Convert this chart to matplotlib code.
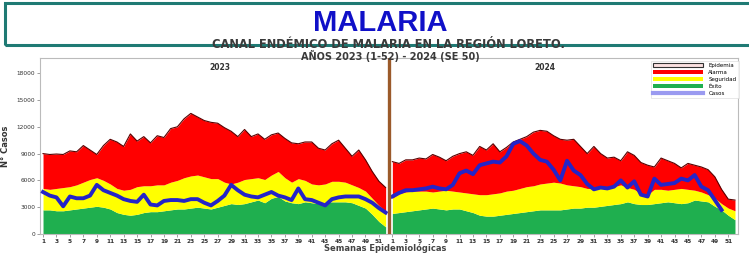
import matplotlib
matplotlib.use("Agg")
import matplotlib.pyplot as plt
from matplotlib.patches import Rectangle, Patch
from matplotlib.lines import Line2D
import numpy as np

# ---- data ----
weeks_2023 = list(range(1, 53))
weeks_2024 = list(range(1, 53))

alarma_2023 = [9000, 8900, 8950, 8900, 9300, 9200, 9900, 9400, 8900, 9900,
               10600, 10300, 9800, 11200, 10400, 10900, 10200, 11000, 10800, 11800,
               12000, 12900, 13500, 13100, 12700, 12500, 12400, 11900, 11500, 10900,
               11700, 10900, 11200, 10600, 11100, 11300, 10700, 10200, 10100, 10300,
               10300, 9600, 9400, 10100, 10500, 9600, 8700, 9400, 8300, 7000,
               5900, 5200]
seguridad_2023 = [5100, 5000, 5100, 5200, 5300, 5500, 5800, 6100, 6300, 6000,
                  5600, 5100, 4900, 5000, 5300, 5400, 5400, 5500, 5500, 5800,
                  6000, 6300, 6500, 6600, 6400, 6200, 6200, 5800, 5600, 5800,
                  6100, 6200, 6300, 6100, 6600, 7000, 6300, 5800, 6200, 6000,
                  5600, 5500, 5600, 5900, 5900, 5800, 5500, 5200, 4800, 4000,
                  3200, 2500]
exito_2023 = [2700, 2700, 2600, 2600, 2700, 2800, 2900, 3000, 3100, 3000,
              2800, 2400, 2200, 2100, 2200, 2400, 2500, 2500, 2600, 2700,
              2800, 2800, 2900, 3000, 2900, 2800, 3000, 3200, 3400, 3300,
              3400, 3600, 3800, 3500, 4000, 4200, 3700, 3500, 3400, 3600,
              3500, 3400, 3500, 3600, 3600, 3600, 3500, 3200, 2900, 2200,
              1400, 800]
casos_2023 = [4700, 4300, 4100, 3100, 4200, 4000, 4000, 4300, 5500, 4900,
              4600, 4300, 3900, 3700, 3600, 4400, 3300, 3200, 3700, 3800,
              3800, 3700, 3900, 3900, 3500, 3200, 3700, 4300, 5500, 4900,
              4400, 4200, 4100, 4400, 4700, 4300, 4100, 3800, 5100, 3900,
              3800, 3500, 3200, 3900, 4100, 4200, 4200, 4200, 3900, 3500,
              2900, 2400]

alarma_2024 = [8100, 7900, 8300, 8300, 8500, 8400, 8900, 8600, 8200, 8700,
               9000, 9200, 8800, 9800, 9400, 10100, 9200, 9700, 10300, 10600,
               10900, 11400, 11600, 11500, 11000, 10600, 10500, 10600, 9800, 9000,
               9800, 9000, 8500, 8600, 8200, 9200, 8800, 8000, 7700, 7500,
               8500, 8200, 7900, 7400, 7900, 7700, 7500, 7200, 6400, 5000,
               3900, 3800]
seguridad_2024 = [4000, 4500, 4700, 4800, 4800, 4800, 4700, 4800, 4900, 4800,
                  4700, 4600, 4500, 4400, 4400, 4500, 4600, 4800, 4900, 5100,
                  5300, 5400, 5600, 5700, 5800, 5700, 5500, 5400, 5300, 5100,
                  5100, 5100, 5300, 5300, 5500, 5200, 5000, 4500, 4400, 5000,
                  5000, 4900, 5000, 5100, 5000, 4900, 4700, 4400, 4000, 3400,
                  2900, 2600]
exito_2024 = [2300, 2400, 2500, 2600, 2700, 2800, 2900, 2800, 2700, 2800,
              2800, 2600, 2400, 2100, 2000, 2000, 2100, 2200, 2300, 2400,
              2500, 2600, 2700, 2700, 2700, 2700, 2800, 2900, 2900, 3000,
              3000, 3100, 3200, 3300, 3400, 3600, 3400, 3300, 3300, 3400,
              3500, 3600, 3500, 3400, 3500, 3800, 3700, 3600, 3100, 2700,
              2100, 1600]
casos_2024 = [4200, 4600, 4900, 4900, 5000, 5100, 5300, 5100, 5000, 5500,
              6800, 7100, 6700, 7700, 7900, 8100, 8000, 8700, 10100, 10400,
              9900, 9000, 8300, 8100, 7200, 6000, 8200, 7100, 6600, 5600,
              5000, 5200, 5100, 5300, 6000, 5200, 5900, 4400, 4200, 6200,
              5500, 5600, 5700, 6200, 6000, 6600, 5300, 4900, 3800, 2700]

y_ticks = [0, 3000, 6000, 9000, 12000, 15000, 18000]
legend_labels = ["Epidemia", "Alarma", "Seguridad", "Éxito", "Casos"]

# ---- figure ----
fig = plt.figure(figsize=(7.49, 2.56), dpi=100)
fig.patch.set_facecolor("white")

W, H = 749, 256
# header box
fig.patches.append(Rectangle((5 / W, 1 - 45 / H), 760 / W, 42 / H, transform=fig.transFigure,
                             fill=False, edgecolor="#1F7A74", lw=2.2, zorder=5))
fig.text(380 / W, 1 - 23 / H, "MALARIA", color="#1010C8", fontsize=21, fontweight="bold",
         ha="center", va="center", family=["Liberation Sans Narrow", "Liberation Sans", "DejaVu Sans"])
fig.text(388 / W, 1 - 45 / H, "CANAL ENDÉMICO DE MALARIA EN LA REGIÓN LORETO.", color="#3A3A3A",
         fontsize=8.3, fontweight="bold", ha="center", va="center", family="DejaVu Sans", zorder=6)
fig.text(390 / W, 1 - 56 / H, "AÑOS 2023 (1-52) - 2024 (SE 50)", color="#3A3A3A",
         fontsize=7.0, fontweight="bold", ha="center", va="center", family="DejaVu Sans")

ax = fig.add_axes([40 / W, 1 - 234 / H, 698 / W, 176 / H])

RED = "#FF0000"
YEL = "#FFFF00"
GRN = "#1FAF4F"
BLUE = "#2424C8"

x23 = np.array(weeks_2023)
x24 = np.array(weeks_2024) + len(weeks_2023)

for x, a, s, e in [(x23, alarma_2023, seguridad_2023, exito_2023),
                   (x24, alarma_2024, seguridad_2024, exito_2024)]:
    ax.fill_between(x, 0, e, color=GRN, lw=0, zorder=2)
    ax.fill_between(x, e, s, color=YEL, lw=0, zorder=2)
    ax.fill_between(x, s, a, color=RED, lw=0, zorder=2)
    ax.plot(x, a, color="#5A0000", lw=0.8, zorder=3)

ax.plot(x23, casos_2023, color=BLUE, lw=2.8, zorder=4, solid_joinstyle="round")
ax.plot(x24[:len(casos_2024)], casos_2024, color=BLUE, lw=2.8, zorder=4, solid_joinstyle="round")

sep = len(weeks_2023) + 0.5
ax.axvline(sep, color="#9B5A2A", lw=2.4, zorder=5)

ax.set_xlim(0.55, 104.45)
ax.set_ylim(0, 19700)
ax.set_yticks(y_ticks)
ax.set_yticklabels([str(v) for v in y_ticks], fontsize=4.2, color="#444444")

xt = list(x23[::2]) + list(x24[::2])
xl = [str(w) for w in weeks_2023[::2]] + [str(w) for w in weeks_2024[::2]]
ax.set_xticks(xt)
ax.set_xticklabels(xl, fontsize=4.2, color="#333333", fontweight="bold")
ax.tick_params(axis="both", length=2, width=0.5, colors="#777777", pad=1.5)
for lab in ax.get_xticklabels() + ax.get_yticklabels():
    lab.set_color("#333333")

for sp in ax.spines.values():
    sp.set_color("#BBBBBB")
    sp.set_linewidth(0.8)

ax.set_ylabel("N° Casos", fontsize=6, fontweight="bold", color="#333333", labelpad=5)
ax.set_xlabel("Semanas Epidemiológicas", fontsize=6.0, fontweight="bold", color="#444444")
ax.xaxis.set_label_coords((385 - 40) / 698, -(248 - 234) / 176, transform=ax.transAxes)
ax.xaxis.label.set_va("center")

ax.text((220 - 40) / 698, (234 - 68) / 176, "2023", transform=ax.transAxes, fontsize=5.5,
        fontweight="bold", ha="center", va="center", color="#333333")
ax.text((545 - 40) / 698, (234 - 68) / 176, "2024", transform=ax.transAxes, fontsize=5.5,
        fontweight="bold", ha="center", va="center", color="#333333")

handles = [Patch(facecolor="#FBE1E1", edgecolor="#333333", lw=0.8),
           Patch(facecolor=RED, edgecolor="none"),
           Patch(facecolor=YEL, edgecolor="none"),
           Patch(facecolor=GRN, edgecolor="none"),
           Line2D([0], [0], color="#9A9AF0", lw=3)]
leg = ax.legend(handles, legend_labels, loc="upper right", bbox_to_anchor=(1.005, 1.0),
                fontsize=4, handlelength=9, handleheight=0.8, labelspacing=0.35,
                borderpad=0.4, handletextpad=1.0, frameon=True, fancybox=False)
leg.get_frame().set_edgecolor("#DDDDDD")
leg.get_frame().set_linewidth(0.6)
leg.set_zorder(10)

fig.savefig("out.png", dpi=100)
